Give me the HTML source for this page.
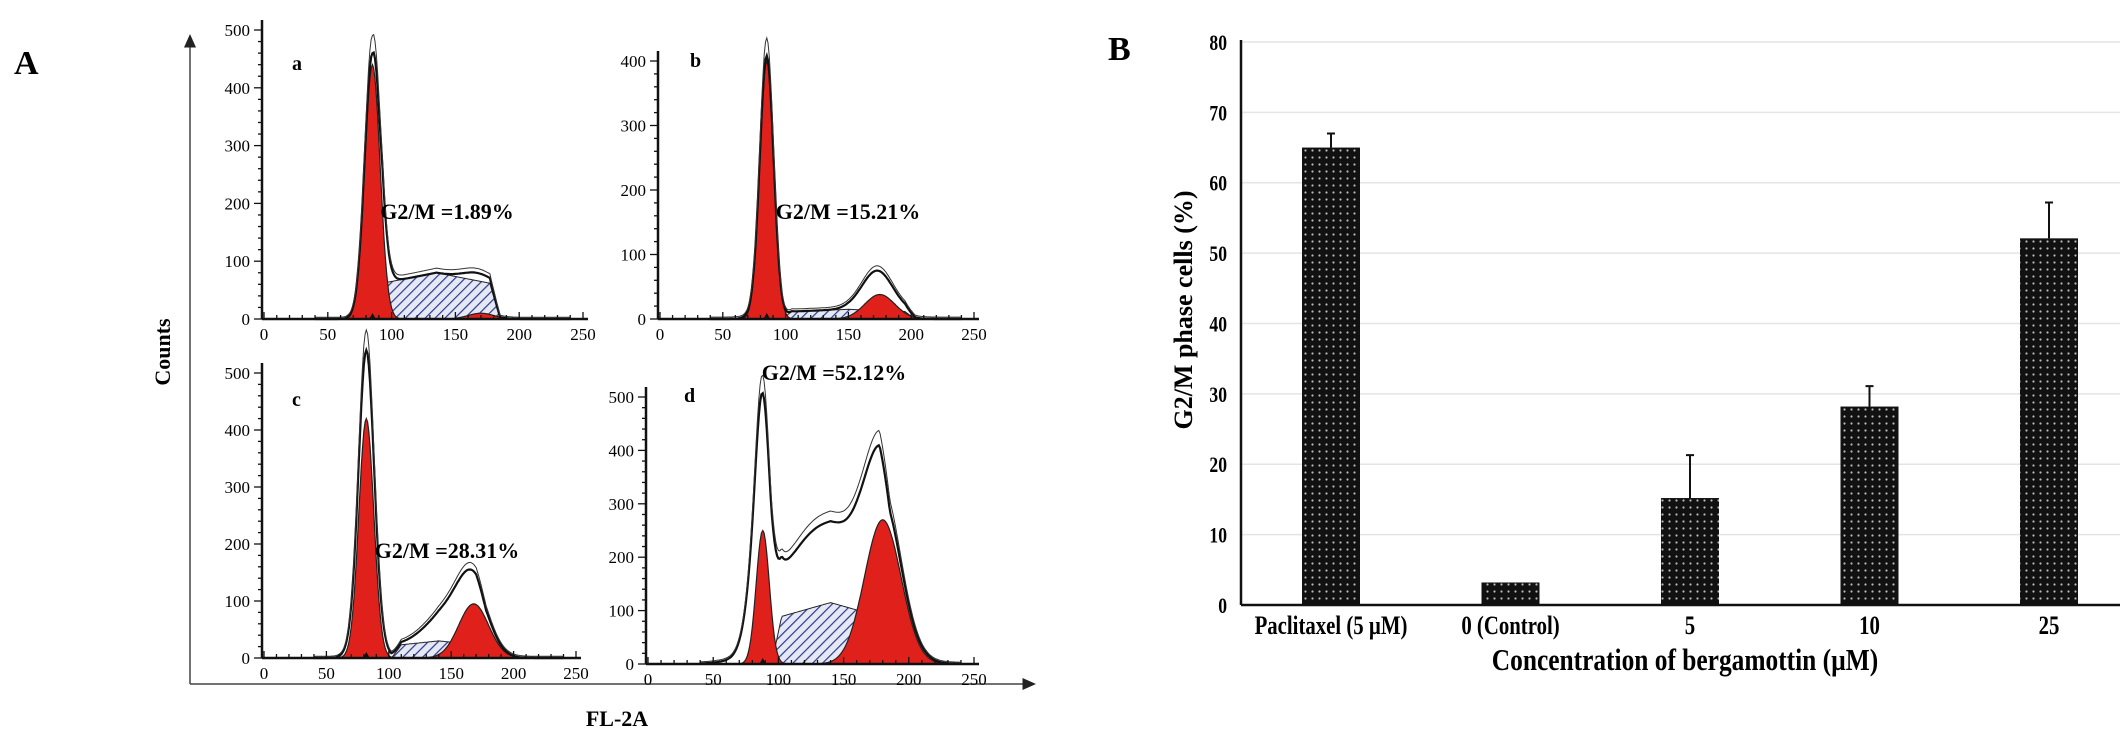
<!DOCTYPE html>
<html><head><meta charset="utf-8"><style>
body{margin:0;background:#fff;}
svg{display:block;font-family:"Liberation Serif",serif;}
</style></head><body>
<svg id="fig" width="2126" height="738" viewBox="0 0 2126 738" xmlns="http://www.w3.org/2000/svg">
<defs>
<pattern id="dots" width="7" height="7" patternUnits="userSpaceOnUse"><rect width="7" height="7" fill="#111"/><circle cx="3.5" cy="3.5" r="1.1" fill="#bbb"/></pattern>
<pattern id="hatch" width="7" height="7" patternUnits="userSpaceOnUse" patternTransform="rotate(45)"><rect width="7" height="7" fill="#e6e8f4"/><line x1="0" y1="0" x2="0" y2="7" stroke="#2a3b8f" stroke-width="2.4"/></pattern>
<marker id="arr" markerWidth="10" markerHeight="10" refX="5" refY="5" orient="auto"><path d="M0,1 L9,5 L0,9 z" fill="#222"/></marker>
</defs>
<text x="14" y="74" font-size="34" font-weight="bold">A</text>
<text x="1108" y="60" font-size="34" font-weight="bold">B</text>
<line x1="190" y1="684" x2="190" y2="40" stroke="#444" stroke-width="1.5" marker-end="url(#arr)"/>
<line x1="190" y1="684" x2="1030" y2="684" stroke="#444" stroke-width="1.5" marker-end="url(#arr)"/>
<text transform="translate(170,352) rotate(-90)" text-anchor="middle" font-size="22" font-weight="bold">Counts</text>
<text x="617" y="726" text-anchor="middle" font-size="22" font-weight="bold">FL-2A</text>
<g id="hist"></g>
<g id="bars"></g>
</svg>
<script>
// ---- Panel A data (flow cytometry component peaks: [channel mean, count height, sd]) ----
const histIds = ['a','b','c','d'];
const histG2M = ['G2/M =1.89%','G2/M =15.21%','G2/M =28.31%','G2/M =52.12%'];
const histYMax = [500,400,500,500];
const g1Peaks = [[85,440,6],[85,400,5.5],[82,420,6],[88,250,5]];
const sPhase = [[135,80,28],[150,15,30],[140,30,20],[140,115,25]];
const g2Peaks = [[170,10,10],[175,38,12],[168,95,12],[180,270,14]];
const envExtra = [[85,20,8],[80,10,8],[82,120,8],[86,220,8]];
const envBroad = [[160,5,10],[170,25,12],[150,55,18],[135,150,30]];
// ---- Panel B data ----
const categories = ['Paclitaxel (5 µM)','0 (Control)','5','10','25'];
const values = [65,3.2,15.2,28.2,52.1];
const errors = [2,0,6.1,2.9,5.1];
const yTicks = [0,10,20,30,40,50,60,70,80];

const NS='http://www.w3.org/2000/svg';
function el(tag,attrs,parent){const e=document.createElementNS(NS,tag);for(const k in attrs)e.setAttribute(k,attrs[k]);parent.appendChild(e);return e;}
const histBoxes=[{x0:264,x1:583,y0:319,yTop:30},{x0:660,x1:974,y0:319,yTop:61},{x0:264,x1:576,y0:658,yTop:373},{x0:648,x1:974,y0:664,yTop:397}];
const letterPos=[[292,70],[690,67],[292,406],[684,402]];
const g2mPos=[[447,219],[848,219],[447,558],[834,380]];
const hg=document.getElementById('hist');
function gauss(x,p){return p[1]*Math.exp(-0.5*Math.pow((x-p[0])/p[2],2));}
histIds.forEach((id,i)=>{
  const b=histBoxes[i];
  const sx=v=>b.x0+(b.x1-b.x0)*v/250;
  const yTopVal=histYMax[i];
  const sy=v=>b.y0-(b.y0-b.yTop)*v/yTopVal;
  const g=el('g',{},hg);
  
  
  function path(fn,close){let d='';for(let x=40;x<=240;x+=1){const v=fn(x);d+=(x===40?'M':'L')+sx(x).toFixed(1)+','+sy(v).toFixed(1);}if(close)d+='L'+sx(240)+','+sy(0)+'L'+sx(40)+','+sy(0)+'Z';return d;}
  const s=sPhase[i];
  const sFn=x=>{const lo=s[0]-s[2]*1.5,hi=s[0]+s[2]*1.5;if(x<lo-8||x>hi+8)return 0;let t=1;if(x<lo)t=(x-lo+8)/8;if(x>hi)t=(hi+8-x)/8;return s[1]*t*(1-0.15*Math.abs(x-s[0])/s[2]);};
  const s1=el('path',{d:path(sFn,true),fill:'url(#hatch)',stroke:'#222','stroke-width':1},g);
  
  const r1=el('path',{d:path(x=>gauss(x,g1Peaks[i]),true),fill:'#e0201b',stroke:'#222','stroke-width':1.2},g);
  
  const r2=el('path',{d:path(x=>gauss(x,g2Peaks[i]),true),fill:'#e0201b',stroke:'#222','stroke-width':1.2},g);
  
  const tot=x=>gauss(x,g1Peaks[i])+gauss(x,envExtra[i])+gauss(x,envBroad[i])+sFn(x)+gauss(x,g2Peaks[i]);
  const e1=el('path',{d:path(tot,false),fill:'none',stroke:'#111','stroke-width':2.2},g);
  
  const e2=el('path',{d:path(x=>tot(x)*1.06+3,false),fill:'none',stroke:'#333','stroke-width':1},g);
  
  const ax=el('line',{x1:b.x0-2,y1:b.y0,x2:b.x1+5,y2:b.y0,stroke:'#111','stroke-width':2.5},g);
  
  const ay=el('line',{x1:b.x0-2,y1:b.y0,x2:b.x0-2,y2:b.yTop-10,stroke:'#111','stroke-width':2.5},g);
  
  for(let v=0;v<=250;v+=10){el('line',{x1:sx(v),y1:b.y0,x2:sx(v),y2:b.y0-(v%50===0?7:4),stroke:'#111','stroke-width':1.3},g);}
  for(let v=0;v<=250;v+=50){const t=el('text',{x:sx(v),y:b.y0+21,'text-anchor':'middle','font-size':17},g);t.textContent=v;}
  for(let v=0;v<=yTopVal;v+=20){el('line',{x1:b.x0-2,y1:sy(v),x2:b.x0-2-(v%100===0?8:4),y2:sy(v),stroke:'#111','stroke-width':1.3},g);}
  for(let v=0;v<=yTopVal;v+=100){const t=el('text',{x:b.x0-14,y:sy(v)+6,'text-anchor':'end','font-size':17},g);t.textContent=v;}
  const tri=el('path',{d:`M${sx(g1Peaks[i][0])-4},${b.y0+1} l4,-7 l4,7z`,fill:'#111'},g);
  
  const lt=el('text',{x:letterPos[i][0],y:letterPos[i][1],'font-size':20,'font-weight':'bold'},g);lt.textContent=id;
  
  const gt=el('text',{x:g2mPos[i][0],y:g2mPos[i][1],'text-anchor':'middle','font-size':22,'font-weight':'bold'},g);gt.textContent=histG2M[i];
  
});
// ---- Panel B ----
const bg=document.getElementById('bars');
const X0=1241,X1=2120,Y0=605,Y80=42;
const yS=v=>Y0-(Y0-Y80)*v/80;
const xC=i=>1331+i*179.5;
const BW=58;
yTicks.forEach(v=>{
  if(v>0){const gl=el('line',{x1:X0,y1:yS(v),x2:X1,y2:yS(v),stroke:'#e4e4e4','stroke-width':1.5},bg);
  }
  const t=el('text',{x:X0-14,y:yS(v)+8,'text-anchor':'end','font-size':22,'font-weight':'bold',transform:`translate(${(X0-14)*0.2},0) scale(0.8,1)`},bg);
  t.textContent=v;
  
});
values.forEach((v,i)=>{
  const r=el('rect',{x:xC(i)-BW/2,y:yS(v),width:BW,height:Y0-yS(v),fill:'url(#dots)'},bg);
  
  if(errors[i]>0){
    const e=el('path',{d:`M${xC(i)},${yS(v)} V${yS(v+errors[i])} M${xC(i)-4},${yS(v+errors[i])} H${xC(i)+4}`,stroke:'#111','stroke-width':2,fill:'none'},bg);
    
  }
  const t=el('text',{x:xC(i)/0.8,y:634,'text-anchor':'middle','font-size':26,'font-weight':'bold',transform:'scale(0.8,1)'},bg);
  t.textContent=categories[i];
  
});
const yAx=el('line',{x1:X0,y1:Y0,x2:X0,y2:Y80-2,stroke:'#111','stroke-width':2.5},bg);

const xAx=el('line',{x1:X0,y1:Y0,x2:X1,y2:Y0,stroke:'#111','stroke-width':2.5},bg);

const xt=el('text',{x:1685/0.82,y:670,'text-anchor':'middle','font-size':31,'font-weight':'bold',transform:'scale(0.82,1)'},bg);
xt.textContent='Concentration of bergamottin (µM)';

const yt=el('text',{transform:'translate(1192,310) rotate(-90)','text-anchor':'middle','font-size':26,'font-weight':'bold'},bg);
yt.textContent='G2/M phase cells (%)';

</script>
</body></html>
